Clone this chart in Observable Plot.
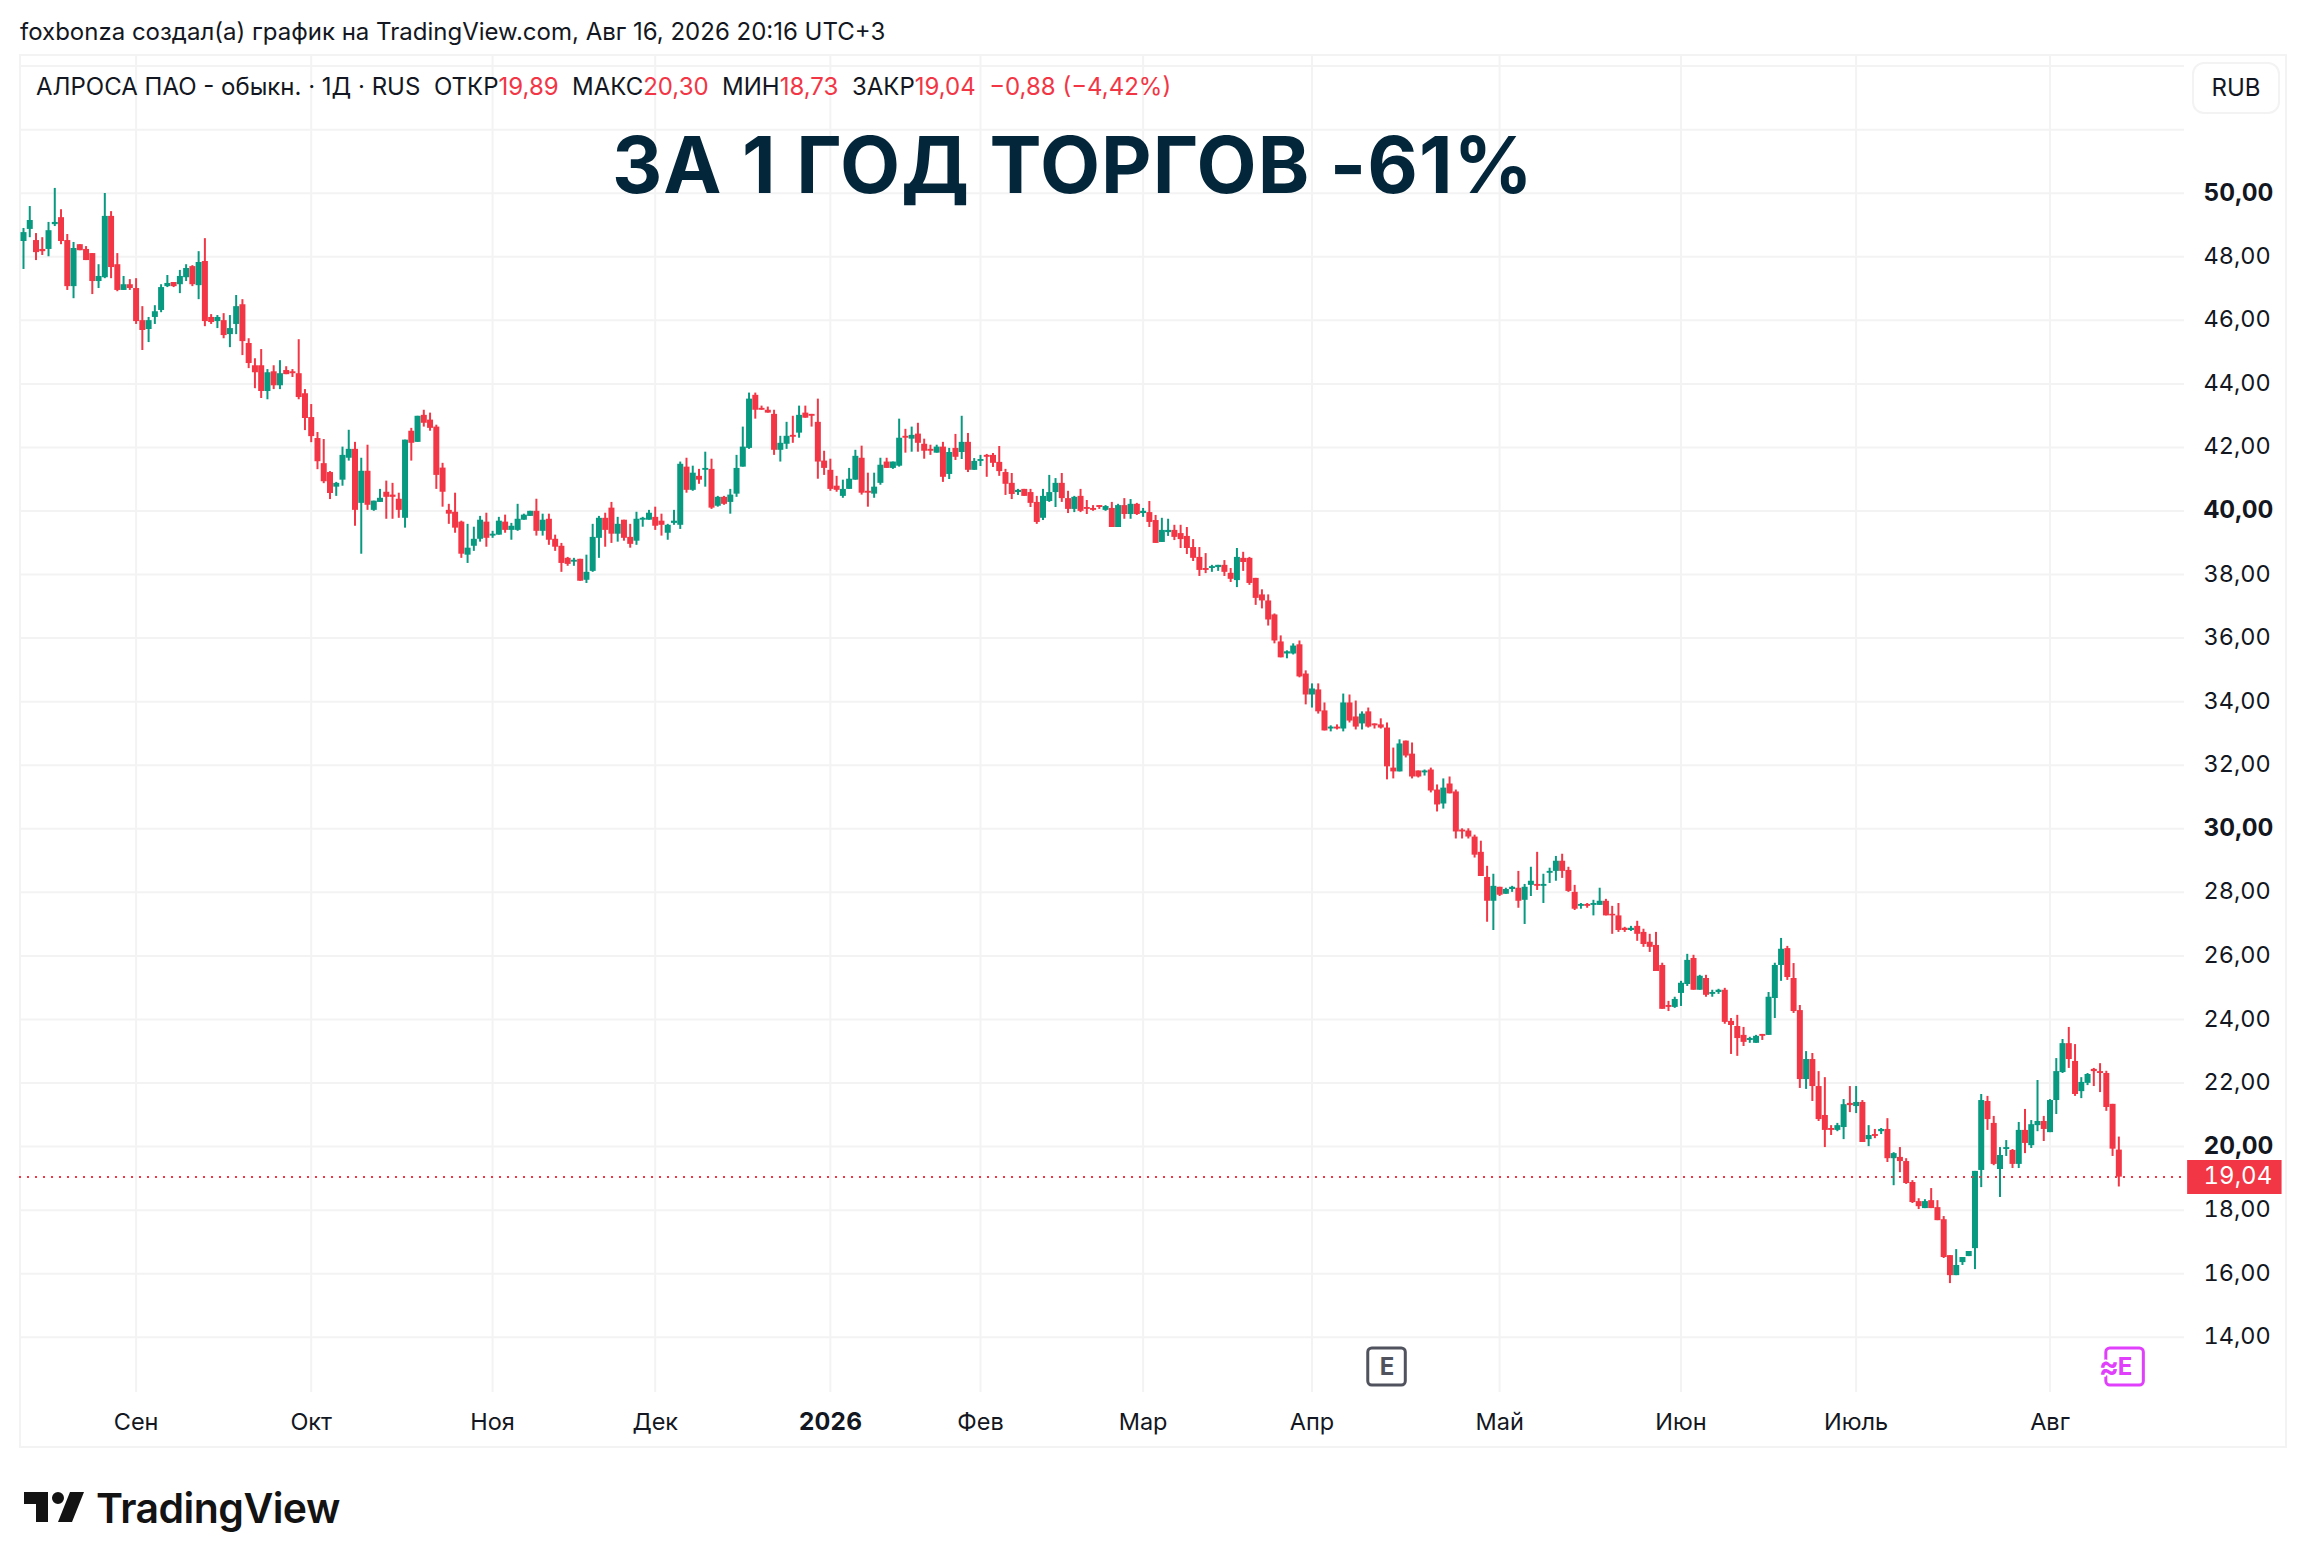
<!DOCTYPE html>
<html lang="ru">
<head>
<meta charset="utf-8">
<script src="https://cdn.jsdelivr.net/npm/d3@7"></script>
<script src="https://cdn.jsdelivr.net/npm/@observablehq/plot@0.6"></script>
<style>
html,body{margin:0;padding:0;background:#fff;}
#page{position:relative;width:2308px;height:1568px;overflow:hidden;font-family:Inter,sans-serif;color:#131722;}
#page>*{position:absolute;}
#credit{left:20px;top:17px;font-size:24px;line-height:30px;white-space:pre;}
#legend{left:36px;top:71px;font-size:24px;line-height:32px;white-space:pre;z-index:2;}
#legend .r{color:#f23645;}
#headline{left:612px;top:118px;font-size:78px;line-height:94px;font-weight:700;letter-spacing:1px;color:#03263a;white-space:pre;z-index:2;}
#box{left:19px;top:54px;width:2264px;height:1390px;border:2px solid #f3f3f3;}
#chart{left:0;top:54px;}
#rub{left:2192px;top:62px;width:84px;height:48px;border:2px solid #f3f3f3;border-radius:12px;text-align:center;line-height:48px;font-size:24px;background:#fff;z-index:2;}
#logo{left:20px;top:1480px;}
#brand{left:96px;top:1480px;font-size:41px;line-height:56px;font-weight:600;letter-spacing:-0.55px;color:#131313;}
</style>
</head>
<body>
<div id="page">
  <div id="box"></div>
  <div id="chart"></div>
  <div id="credit">foxbonza создал(а) график на TradingView.com, Авг 16, 2026 20:16 UTC+3</div>
  <div id="legend">АЛРОСА ПАО - обыкн. · 1Д · RUS  ОТКР<span class="r">19,89</span>  МАКС<span class="r">20,30</span>  МИН<span class="r">18,73</span>  ЗАКР<span class="r">19,04</span>  <span class="r">−0,88 (−4,42%)</span></div>
  <div id="headline">ЗА 1 ГОД ТОРГОВ -61%</div>
  <div id="rub">RUB</div>
  <svg id="logo" width="72" height="56" viewBox="0 0 36 28"><path fill="#131313" d="M14 6H2v6h6v9h6V6Zm12 15h-7l6-15h7l-6 15Zm-7-9a3 3 0 1 0 0-6 3 3 0 0 0 0 6Z"/></svg>
  <div id="brand">TradingView</div>
</div>
<script>
const opens = [
48.48,48.86,48.51,48.23,48.23,49.01,49.23,48.51,47.06,48.38,
48.23,48.10,47.22,47.34,49.27,47.75,46.94,47.12,47.00,45.99,
45.71,46.09,46.31,47.06,47.19,47.12,47.34,47.69,47.09,47.85,
46.09,45.96,45.99,45.55,45.87,46.49,45.27,44.57,44.57,43.76,
44.38,43.94,44.42,44.38,44.32,43.69,42.94,42.28,41.49,41.21,
40.75,40.97,41.66,41.94,40.24,41.25,40.02,40.27,40.59,40.50,
40.37,39.77,42.51,42.16,43.01,42.86,42.64,41.35,40.02,39.96,
39.65,38.61,38.89,39.11,39.65,39.21,39.24,39.65,39.39,39.39,
39.71,39.83,39.99,39.36,39.74,39.11,38.89,38.51,38.39,38.48,
37.82,38.10,39.14,39.77,40.09,39.27,39.71,39.17,39.05,39.71,
39.71,39.80,39.68,39.30,39.61,39.55,41.38,40.65,41.09,41.28,
41.31,40.15,40.43,40.27,40.53,41.38,41.97,43.64,43.23,43.17,
43.04,41.91,42.10,42.38,42.45,43.08,43.04,42.79,41.57,41.28,
40.78,40.46,40.68,40.97,41.66,40.62,40.53,40.87,41.54,41.34,
41.41,42.35,42.26,42.42,42.10,41.94,41.82,42.01,41.15,41.97,
41.84,42.16,41.28,41.56,41.75,41.75,41.53,41.21,40.87,40.58,
40.68,40.58,40.27,39.77,40.30,40.58,40.87,40.39,40.05,40.46,
40.11,40.08,40.17,40.02,40.08,39.48,40.17,39.89,40.21,39.92,
39.95,39.70,39.01,39.32,39.39,39.29,39.20,38.85,38.54,38.19,
38.19,38.22,38.29,38.04,37.81,38.51,38.51,37.88,37.36,37.17,
36.73,35.88,35.50,35.50,35.79,34.87,34.21,34.37,33.71,33.14,
33.20,33.14,33.96,33.52,33.30,33.68,33.30,33.27,33.17,31.91,
31.79,32.76,32.35,31.82,31.76,31.85,31.22,30.78,31.41,31.16,
29.96,29.93,29.74,29.26,28.47,27.72,28.16,27.94,28.09,28.13,
27.75,28.22,28.25,28.19,28.60,28.66,28.98,28.69,28.00,27.56,
27.62,27.59,27.59,27.72,27.31,27.26,26.87,26.80,26.93,26.74,
26.43,26.33,25.70,24.44,24.38,24.82,25.10,25.92,24.92,25.29,
24.79,24.85,24.92,23.94,23.78,23.50,23.34,23.25,23.53,23.50,
24.66,25.70,26.23,25.29,24.28,22.11,22.74,21.89,20.98,20.57,
20.51,20.60,21.36,21.26,21.39,20.22,20.38,20.47,20.54,19.62,
19.66,19.53,18.87,18.27,18.05,18.30,18.08,17.70,16.57,15.94,
16.35,16.54,16.79,19.25,21.42,20.73,19.28,19.91,19.88,19.44,
20.51,20.03,20.66,20.79,20.44,21.45,22.33,23.24,22.68,21.73,
21.99,22.43,22.36,22.30,21.33,19.89];
const highs = [
48.89,49.58,48.73,48.60,49.08,50.15,49.48,48.70,48.45,48.38,
48.32,48.10,47.75,49.99,49.42,48.10,47.38,47.28,47.31,46.43,
46.09,46.46,47.12,47.41,47.19,47.57,47.75,47.72,48.16,48.57,
46.18,46.15,46.21,46.15,46.78,46.65,45.42,44.79,45.08,44.45,
44.57,44.73,44.54,44.45,45.39,43.82,43.35,42.47,42.25,41.24,
40.90,42.01,42.54,42.16,41.66,42.07,40.31,40.68,40.94,40.87,
40.56,42.23,42.60,42.98,43.17,43.08,42.70,41.50,40.21,40.56,
39.68,39.58,39.49,39.83,39.93,39.36,39.80,39.87,39.61,40.21,
39.90,39.99,40.37,39.90,39.90,39.24,38.98,38.54,38.51,38.48,
38.61,39.58,39.83,39.93,40.27,39.80,39.71,39.58,39.96,39.80,
40.02,40.12,39.90,39.58,40.02,41.54,41.66,41.41,41.31,41.85,
41.63,40.46,40.46,40.68,41.75,42.64,43.71,43.71,43.30,43.27,
43.17,42.35,42.79,42.98,43.30,43.30,43.04,43.52,41.88,41.63,
41.09,40.97,41.34,41.91,42.04,41.19,41.19,41.66,41.66,41.54,
42.89,42.57,42.64,42.76,42.26,42.07,42.07,42.16,41.97,42.41,
42.98,42.44,41.65,41.75,41.78,41.81,42.03,41.31,41.18,40.68,
40.68,40.68,40.46,40.68,41.12,41.02,41.18,40.62,40.46,40.68,
40.33,40.17,40.17,40.17,40.27,40.21,40.39,40.36,40.24,40.08,
40.30,39.86,39.77,39.74,39.55,39.55,39.48,39.10,38.85,38.66,
38.29,38.29,38.44,38.19,38.82,38.70,38.54,37.88,37.52,37.36,
36.76,36.07,35.60,35.82,35.91,34.97,34.56,34.56,33.96,33.24,
33.27,34.24,34.21,34.02,33.68,33.80,33.30,33.46,33.33,32.54,
32.80,32.76,32.70,31.82,31.85,31.91,31.38,31.57,31.63,31.22,
30.00,30.00,29.80,29.61,28.82,28.57,28.16,28.13,28.19,28.66,
28.25,28.79,29.26,28.57,28.76,29.13,29.20,28.79,28.22,27.65,
27.65,27.75,28.13,27.78,27.56,27.65,26.90,26.93,27.09,26.84,
26.68,26.74,25.77,24.57,24.70,25.20,26.05,26.02,25.39,25.39,
24.92,24.95,24.98,24.03,24.13,23.75,23.44,23.50,23.53,24.85,
25.77,26.55,26.30,25.76,24.44,22.99,22.93,22.36,22.17,20.66,
20.73,21.48,21.89,21.89,21.45,20.66,20.54,20.57,20.88,19.81,
19.97,19.62,18.93,18.36,18.33,18.68,18.30,17.80,16.57,16.76,
16.51,16.70,19.22,21.64,21.58,20.95,19.97,20.19,19.91,20.76,
21.17,20.82,22.08,20.95,21.48,22.77,23.37,23.75,23.21,22.17,
22.30,22.46,22.61,22.37,21.33,20.30];
const lows = [
47.60,48.60,47.88,48.04,48.00,48.95,48.38,46.94,46.68,48.19,
47.88,46.81,47.00,47.31,47.31,46.90,46.94,46.94,45.87,45.05,
45.30,45.87,46.24,47.03,47.03,46.84,47.22,47.06,46.65,45.80,
45.87,45.74,45.42,45.14,45.55,44.89,44.48,43.85,43.54,43.50,
43.82,43.82,44.29,44.20,43.50,42.53,42.15,41.30,40.86,40.36,
40.46,40.78,41.57,39.52,38.64,40.02,39.99,40.27,39.74,39.74,
39.77,39.46,41.57,42.16,42.64,42.51,40.68,40.12,39.58,39.30,
38.51,38.35,38.73,39.02,38.86,39.14,39.24,39.30,39.08,39.36,
39.71,39.83,39.21,39.21,38.92,38.73,38.07,38.26,38.26,37.79,
37.72,38.07,38.51,38.86,38.98,39.02,39.05,38.83,38.92,39.49,
39.71,39.39,39.21,39.08,39.55,39.42,40.56,40.62,40.84,40.75,
40.05,40.12,40.18,39.90,40.43,41.38,41.94,42.89,43.17,43.08,
41.75,41.54,41.94,42.13,42.29,42.92,42.64,41.00,41.12,40.62,
40.59,40.40,40.68,40.97,40.50,40.12,40.40,40.81,41.34,41.31,
41.38,41.82,41.85,41.85,41.63,41.75,41.82,40.90,40.99,41.59,
41.62,41.21,41.28,41.40,41.06,41.37,41.09,40.49,40.36,40.49,
40.46,40.11,39.58,39.70,40.27,40.11,40.27,39.92,39.95,39.95,
39.89,39.99,40.05,39.99,39.48,39.48,39.74,39.74,39.86,39.80,
39.48,38.98,39.01,39.20,39.07,38.82,38.63,38.41,37.94,38.03,
38.07,38.10,37.94,37.75,37.59,38.10,37.66,37.03,36.92,36.38,
35.82,35.38,35.35,35.47,34.75,33.90,33.80,33.61,33.08,33.05,
33.11,33.05,33.33,33.11,33.11,33.17,33.14,33.14,31.54,31.57,
31.79,32.23,31.57,31.60,31.66,31.13,30.53,30.62,31.10,29.68,
29.68,29.68,29.08,28.50,27.06,26.80,27.87,27.94,28.00,27.50,
26.99,27.87,28.06,27.65,28.28,28.35,28.44,28.00,27.43,27.47,
27.50,27.26,27.59,27.26,26.68,26.74,26.74,26.77,26.46,26.27,
26.11,25.51,24.32,24.25,24.35,24.41,25.04,24.92,24.92,24.70,
24.70,24.79,23.85,22.90,22.84,23.15,23.25,23.25,23.34,23.50,
24.03,25.20,25.23,24.19,21.83,21.80,21.42,20.79,19.97,20.35,
20.47,20.22,21.07,21.04,20.13,20.00,20.25,20.38,19.50,18.77,
19.18,18.81,18.21,18.02,18.05,18.05,17.67,16.48,15.69,15.94,
16.26,16.54,16.13,18.71,20.51,19.40,18.40,19.69,19.31,19.31,
19.78,19.94,20.47,20.16,20.44,21.01,22.30,22.46,21.58,21.51,
21.92,21.89,21.70,21.11,19.69,18.73];
const closes = [
48.76,49.14,48.13,48.16,48.82,49.08,48.48,47.06,48.26,48.19,
47.88,47.22,47.38,49.27,47.66,46.94,47.12,47.00,45.96,45.68,
45.99,46.27,47.03,47.16,47.06,47.38,47.63,47.12,47.82,45.96,
45.93,46.09,45.52,45.74,46.43,45.33,44.64,44.35,43.76,44.35,
43.94,44.32,44.29,44.32,43.57,42.91,42.34,41.55,40.92,40.55,
40.87,41.75,41.94,40.02,41.25,40.18,40.31,40.40,40.43,40.43,
40.02,42.23,42.13,42.98,42.76,42.60,41.12,40.59,39.90,39.46,
38.64,38.83,39.11,39.71,39.14,39.27,39.68,39.39,39.52,39.74,
39.87,39.99,39.36,39.71,39.08,38.86,38.35,38.32,38.45,37.79,
38.07,39.17,39.77,39.39,39.27,39.58,39.14,38.95,39.74,39.77,
39.93,39.52,39.55,39.55,39.68,41.47,40.65,41.19,40.97,41.34,
40.09,40.43,40.21,40.50,41.34,42.01,43.52,43.17,43.17,43.08,
41.91,42.13,42.35,42.32,43.01,42.92,42.98,41.54,41.34,40.68,
40.65,40.68,41.00,41.72,40.56,40.56,40.75,41.44,41.34,41.54,
42.29,42.29,42.38,42.13,41.88,41.88,42.01,41.06,41.84,41.69,
42.16,41.28,41.56,41.62,41.69,41.50,41.24,40.84,40.52,40.65,
40.46,40.24,39.64,40.46,40.58,40.87,40.39,40.05,40.43,39.99,
40.05,40.02,40.11,40.14,39.48,40.17,39.89,40.21,39.89,39.99,
39.64,38.98,39.39,39.39,39.17,39.10,38.82,38.51,38.13,38.13,
38.25,38.29,38.07,37.85,38.54,38.38,37.72,37.25,37.17,36.57,
35.91,35.38,35.57,35.75,34.78,34.21,34.40,33.68,33.08,33.20,
33.14,33.96,33.39,33.20,33.61,33.20,33.24,33.17,31.95,31.79,
32.67,32.29,31.63,31.63,31.82,31.19,30.75,31.28,31.10,29.90,
29.90,29.74,29.17,28.50,27.72,28.19,27.91,28.09,28.16,27.72,
28.16,28.35,28.19,28.25,28.66,28.98,28.66,28.03,27.47,27.62,
27.56,27.65,27.72,27.26,27.26,26.80,26.80,26.87,26.68,26.36,
26.27,25.51,24.32,24.38,24.63,25.14,25.86,24.92,25.36,24.76,
24.85,24.92,23.91,23.81,23.40,23.28,23.40,23.47,23.47,24.70,
25.70,26.21,25.32,24.25,22.11,22.74,21.89,20.85,20.51,20.51,
20.66,21.32,21.29,21.39,20.13,20.35,20.32,20.54,19.62,19.78,
19.53,18.84,18.24,18.11,18.27,18.05,17.67,16.51,15.94,16.26,
16.51,16.70,19.22,21.45,20.85,19.44,19.72,19.97,19.44,20.51,
20.10,20.69,20.79,20.54,21.45,22.36,23.24,22.74,21.64,22.02,
22.27,22.36,22.30,21.23,19.92,19.04];

const monthBars   = [18,46,75,101,129,153,179,206,236,265,293,324];
const monthLabels = ["Сен","Окт","Ноя","Дек","2026","Фев","Мар","Апр","Май","Июн","Июль","Авг"];
const gridPrices  = [14,16,18,20,22,24,26,28,30,32,34,36,38,40,42,44,46,48,50,52,54];
const tickPrices  = [14,16,18,20,22,24,26,28,30,32,34,36,38,40,42,44,46,48,50];
const boldPrices  = [20,30,40,50];
const lastPrice   = 19.04;
const earnings    = [{bar:218,label:"E",color:"#50535e"},{bar:336,label:"E",color:"#e040fb"}];

const GREEN = "#089981", RED = "#f23645", GRID = "#f3f3f3", INK = "#131722";
const candles = opens.map((o,i)=>({i,o,h:highs[i],l:lows[i],c:closes[i]}));
const colorOf = d => d.c >= d.o ? GREEN : RED;
const fmt = v => v.toFixed(2).replace(".",",");
const isBold = v => boldPrices.includes(v);
const isBoldMonth = l => /^\d+$/.test(l);
const FONT = "Inter, sans-serif";

const chart = Plot.plot({
  width: 2308, height: 1394,
  marginTop: 0, marginBottom: 56, marginLeft: 19, marginRight: 124,
  style: {background:"transparent", fontFamily:FONT, overflow:"visible"},
  x: {axis:null, domain:[-0.64,345.5]},
  y: {axis:null, domain:[12.263,54.364]},
  marks: [
    Plot.gridX(monthBars,{stroke:GRID,strokeOpacity:1,strokeWidth:2}),
    Plot.gridY(gridPrices,{stroke:GRID,strokeOpacity:1,strokeWidth:2}),
    Plot.ruleX(candles,{x:"i",y1:"l",y2:"h",stroke:colorOf,strokeWidth:2}),
    Plot.ruleX(candles,{x:"i",y1:"o",y2:"c",stroke:colorOf,strokeWidth:6}),
    Plot.ruleY([lastPrice],{stroke:RED,strokeWidth:2,strokeDasharray:"2,6"}),
    // y axis labels
    Plot.text(tickPrices.filter(v=>!isBold(v)),{y:d=>d,text:fmt,frameAnchor:"right",textAnchor:"start",dx:19,dy:-0.5,fontSize:23.5,fontVariant:"tabular-nums",fill:INK,fontFamily:FONT}),
    Plot.text(tickPrices.filter(isBold),{y:d=>d,text:fmt,frameAnchor:"right",textAnchor:"start",dx:19,dy:-0.5,fontSize:24.5,fontWeight:700,fontVariant:"tabular-nums",fill:INK,fontFamily:FONT}),
    // last price tag
    Plot.ruleY([lastPrice],{x1:346.0,x2:361.1,stroke:RED,strokeWidth:34}),
    Plot.text([lastPrice],{y:d=>d,text:fmt,frameAnchor:"right",textAnchor:"start",dx:19,dy:-0.5,fontSize:24,fontVariant:"tabular-nums",fill:"#ffffff",fontFamily:FONT}),
    // x axis labels
    Plot.text(monthBars.filter((b,i)=>!isBoldMonth(monthLabels[i])),{x:d=>d,text:d=>monthLabels[monthBars.indexOf(d)],frameAnchor:"bottom",lineAnchor:"middle",dy:30,fontSize:23.5,fill:INK,fontFamily:FONT}),
    Plot.text(monthBars.filter((b,i)=>isBoldMonth(monthLabels[i])),{x:d=>d,text:d=>monthLabels[monthBars.indexOf(d)],frameAnchor:"bottom",lineAnchor:"middle",dy:30,fontSize:24.5,fontWeight:700,fontVariant:"tabular-nums",fill:INK,fontFamily:FONT}),
    // earnings badges
    Plot.rect(earnings,{x1:d=>d.bar-3,x2:d=>d.bar+3,y1:12.48,y2:13.65,fill:"#ffffff",stroke:"color",strokeWidth:3,rx:4}),
    Plot.text(earnings,{x:"bar",y:13.06,text:"label",fill:"color",fontSize:24,fontWeight:700,fontFamily:FONT}),
    Plot.text(earnings.slice(1),{x:d=>d.bar-2.6,y:13.06,text:()=>"≈",fill:"color",fontSize:30,fontWeight:700,stroke:"#ffffff",strokeWidth:4,paintOrder:"stroke",fontFamily:FONT})
  ]
});
document.getElementById("chart").appendChild(chart);
</script>
</body>
</html>
